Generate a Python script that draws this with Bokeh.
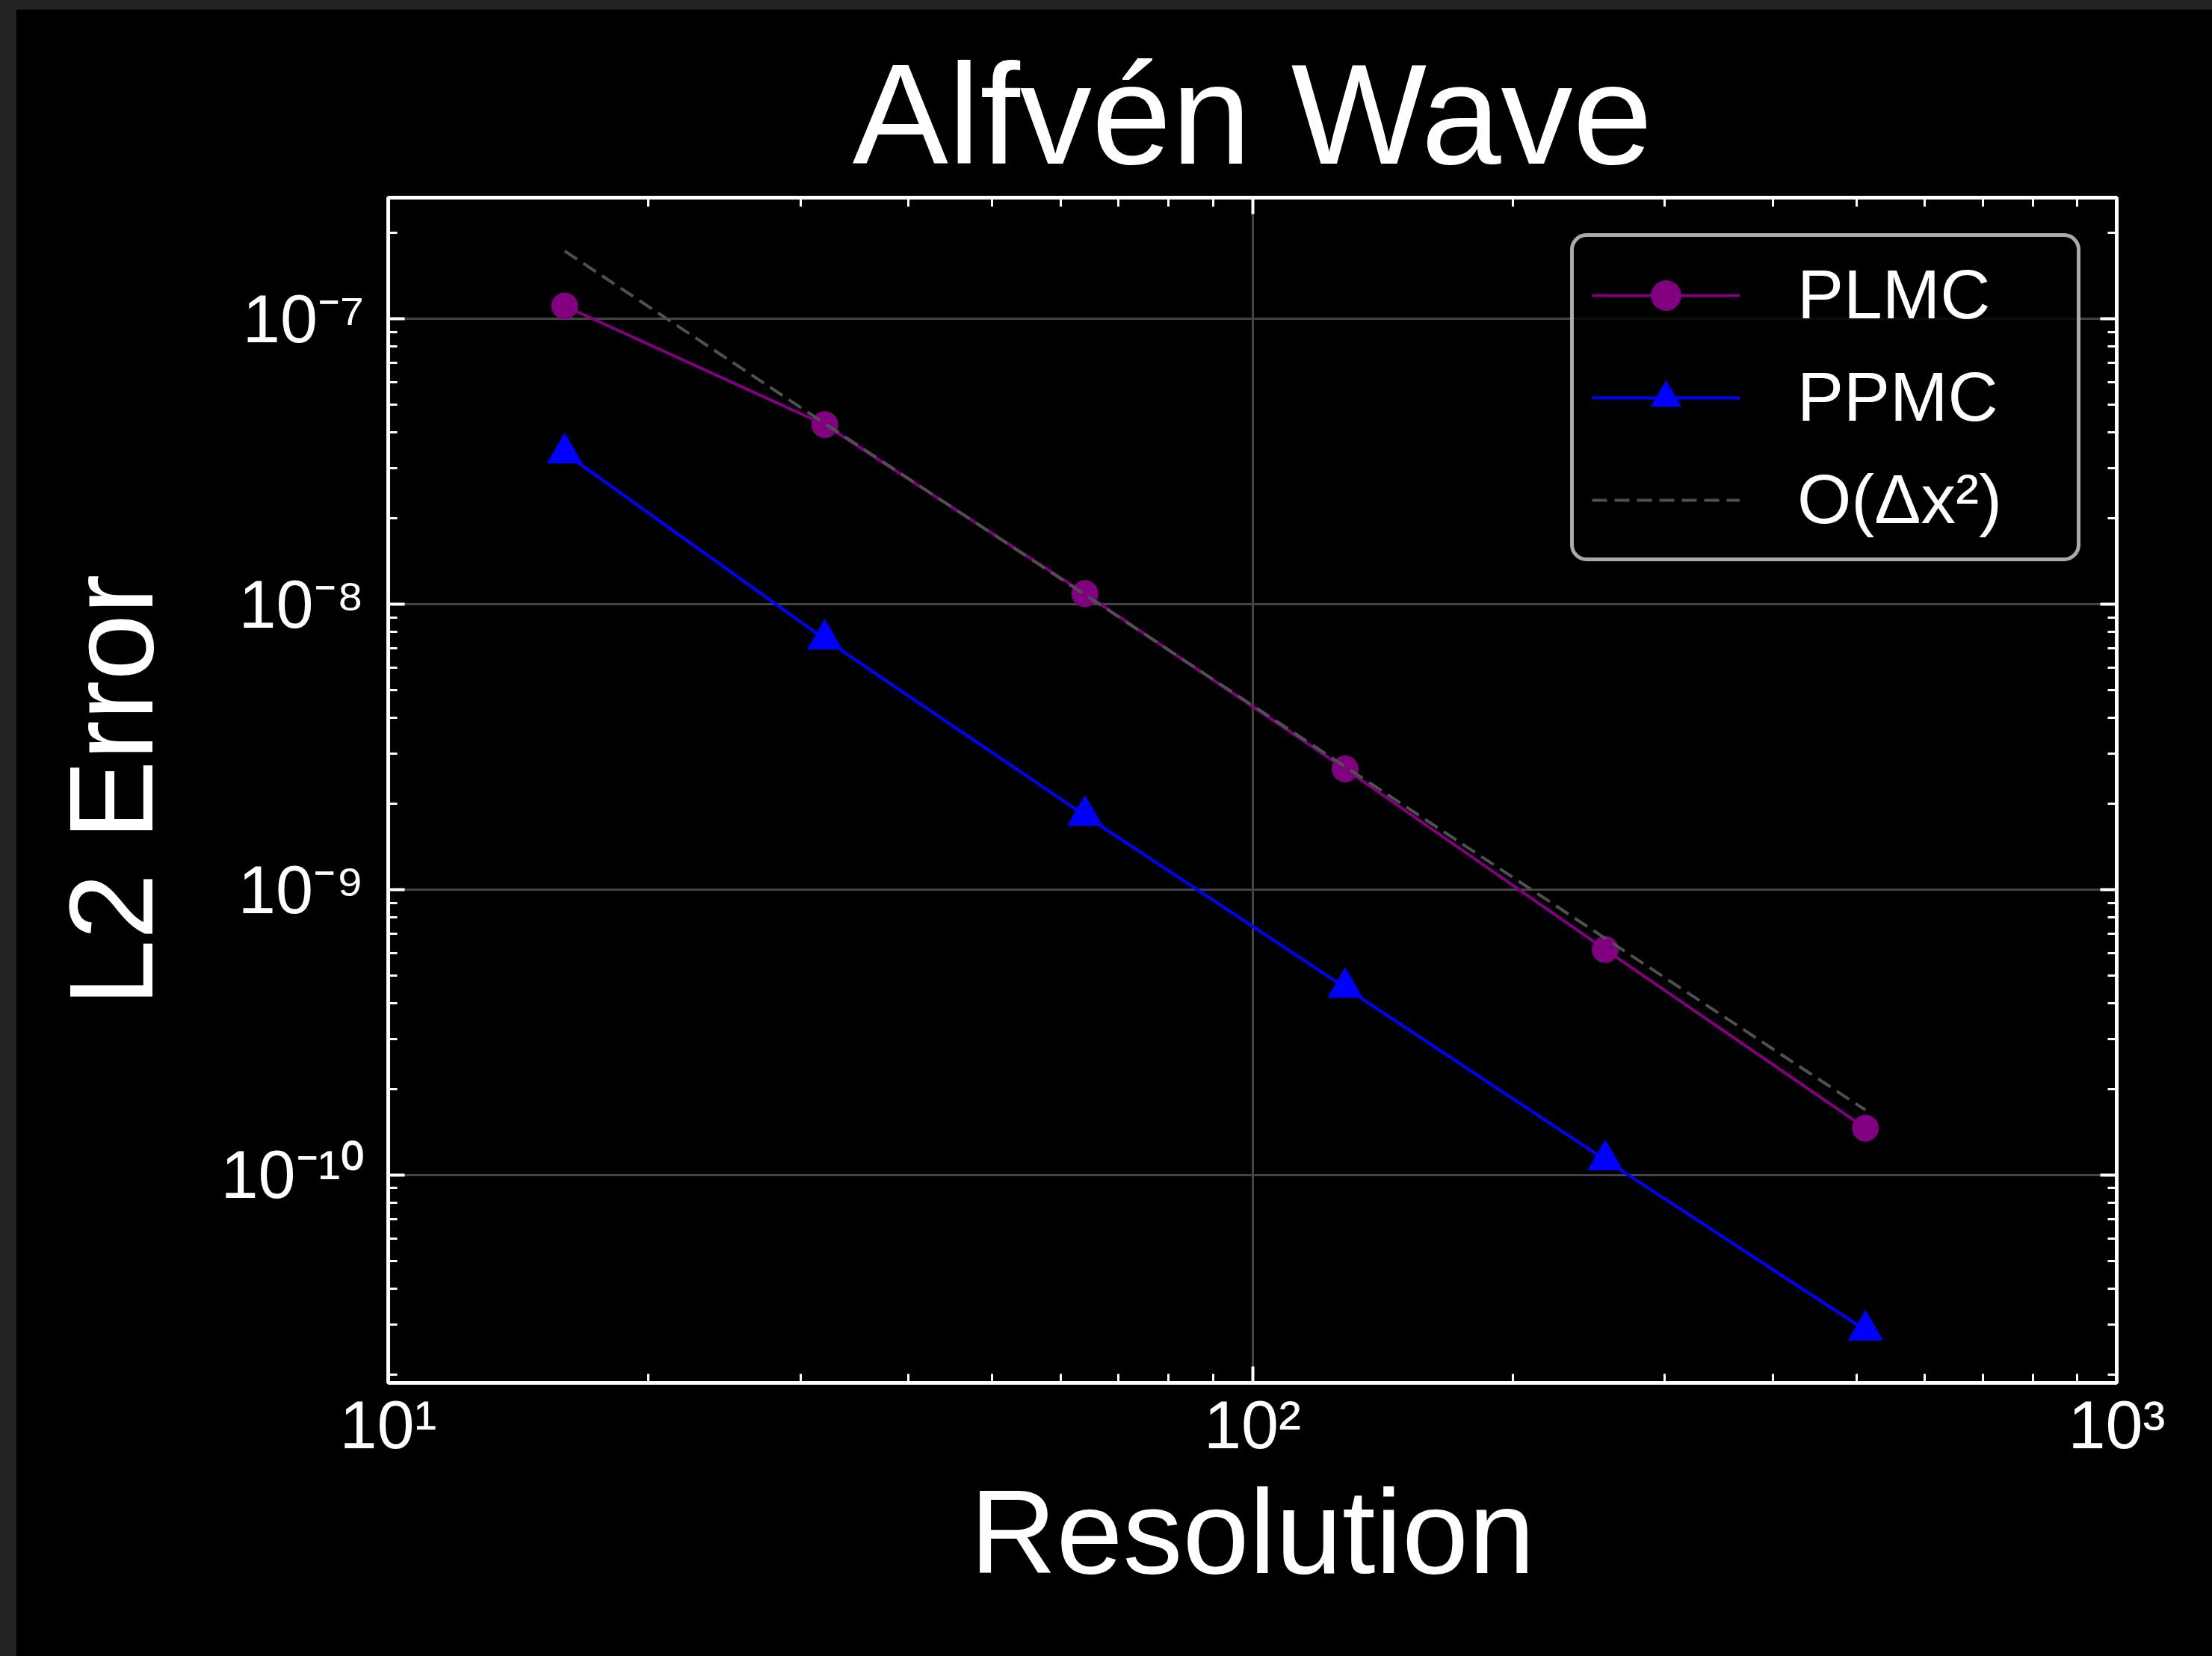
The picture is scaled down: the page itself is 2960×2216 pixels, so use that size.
from bokeh.plotting import figure
from bokeh.models import LogAxis, FixedTicker, CustomJSTickFormatter, Legend, LegendItem
from bokeh.embed import file_html
from bokeh.resources import INLINE

# ---- data ----
resolution = [16, 32, 64, 128, 256, 512]
plmc_err = [1.11e-7, 4.26e-8, 1.09e-8, 2.65e-9, 6.17e-10, 1.46e-10]
ppmc_err = [3.39e-8, 7.55e-9, 1.82e-9, 4.54e-10, 1.13e-10, 2.86e-11]
order2_ref = [1.73e-7, 4.3e-8, 1.08e-8, 2.7e-9, 6.75e-10, 1.69e-10]

series_names = ["PLMC", "PPMC", "O(Δx²)"]

x_ticks = [10, 100, 1000]
x_tick_labels = ["10¹", "10²", "10³"]
y_ticks = [1e-10, 1e-9, 1e-8, 1e-7]
y_tick_labels = ["10⁻¹⁰", "10⁻⁹", "10⁻⁸", "10⁻⁷"]
x_decades = [10, 100]
y_decades = [1e-11, 1e-10, 1e-9, 1e-8, 1e-7]
x_limits = (10, 1000)
y_limits = (1.87e-11, 2.66e-7)

FONT = "Liberation Sans"

x_minor = [m * d for d in x_decades for m in range(2, 10)]
y_minor = [m * d for d in y_decades for m in range(2, 10)]

p = figure(
    x_axis_type="log", y_axis_type="log",
    x_range=x_limits, y_range=y_limits,
    frame_width=2313, frame_height=1586,
    min_border_left=498, min_border_right=128,
    min_border_top=252, min_border_bottom=366,
    output_backend="svg", toolbar_location=None,
    background_fill_color="black", border_fill_color="black",
    outline_line_color="white", outline_line_width=5,
    title="Alfvén Wave",
)

p.title.text_font = FONT
p.title.text_font_size = "192px"
p.title.text_font_style = "normal"
p.title.text_color = "white"
p.title.align = "center"

fmt_code = """
let best = 0, bd = Infinity;
for (let i = 0; i < vals.length; i++) {
  const d = Math.abs(Math.log10(tick) - Math.log10(vals[i]));
  if (d < bd) { bd = d; best = i; }
}
return labs[best];
"""


def style_axis(ax, ticks, minor, labels, show):
    ax.ticker = FixedTicker(ticks=ticks, minor_ticks=minor)
    ax.axis_line_color = None
    ax.major_tick_in = 22
    ax.major_tick_out = 0
    ax.minor_tick_in = 12
    ax.minor_tick_out = 0
    ax.major_tick_line_color = "white"
    ax.major_tick_line_width = 4
    ax.minor_tick_line_color = "white"
    ax.minor_tick_line_width = 3
    if show:
        ax.formatter = CustomJSTickFormatter(args=dict(vals=ticks, labs=labels), code=fmt_code)
        ax.major_label_text_font = FONT
        ax.major_label_text_font_size = "90px"
        ax.major_label_text_color = "white"
        ax.axis_label_text_font = FONT
        ax.axis_label_text_font_size = "160px"
        ax.axis_label_text_font_style = "normal"
        ax.axis_label_text_color = "white"
    else:
        # mirrored axis: ticks only, no labels
        ax.formatter = CustomJSTickFormatter(code="return '';")
        ax.major_label_text_font_size = "1px"
        ax.major_label_standoff = 0


xb = p.below[0]
yl = p.left[0]
style_axis(xb, x_ticks, x_minor, x_tick_labels, True)
style_axis(yl, y_ticks, y_minor, y_tick_labels, True)
xb.axis_label = "Resolution"
yl.axis_label = "L2 Error"
xb.major_label_standoff = 6
yl.major_label_standoff = 32
xb.axis_label_standoff = 0
yl.axis_label_standoff = 54

xt = LogAxis()
yr = LogAxis()
style_axis(xt, x_ticks, x_minor, x_tick_labels, False)
style_axis(yr, y_ticks, y_minor, y_tick_labels, False)
p.add_layout(xt, "above")
p.add_layout(yr, "right")

p.xgrid.ticker = FixedTicker(ticks=x_ticks)
p.ygrid.ticker = FixedTicker(ticks=y_ticks)
p.xgrid.grid_line_color = "#444444"
p.ygrid.grid_line_color = "#444444"
p.xgrid.grid_line_width = 3
p.ygrid.grid_line_width = 3

l1 = p.line(resolution, plmc_err, line_color="#800080", line_width=4)
s1 = p.scatter(resolution, plmc_err, marker="circle", size=35,
               fill_color="#800080", line_color="#800080")
l2 = p.line(resolution, ppmc_err, line_color="#0000ff", line_width=4)
s2 = p.scatter(resolution, ppmc_err, marker="triangle", size=46,
               fill_color="#0000ff", line_color="#0000ff")
l3 = p.line(resolution, order2_ref, line_color="#505050", line_width=4, line_dash="20 10")

legend = Legend(
    items=[
        LegendItem(label=series_names[0], renderers=[l1, s1]),
        LegendItem(label=series_names[1], renderers=[l2, s2]),
        LegendItem(label=series_names[2], renderers=[l3]),
    ],
    location="top_right",
    label_text_font=FONT, label_text_font_size="93px", label_text_color="white",
    background_fill_color="black", background_fill_alpha=0.8,
    border_line_color="#aaaaaa", border_line_width=5, border_line_alpha=1.0,
    glyph_width=198, glyph_height=100, label_height=100, label_width=350,
    label_standoff=77, spacing=30, padding=24, margin=48,
)
try:
    legend.border_radius = 22
except Exception:
    pass
p.add_layout(legend)

html = file_html(p, INLINE, title="Alfvén Wave")
html = html.replace(
    "</head>",
    "<style>html,body{background:#232323 !important;}"
    "body{margin:0 !important;padding:12px 0 0 21px !important;}</style></head>",
    1,
)
with open("out.html", "w", encoding="utf-8") as f:
    f.write(html)
